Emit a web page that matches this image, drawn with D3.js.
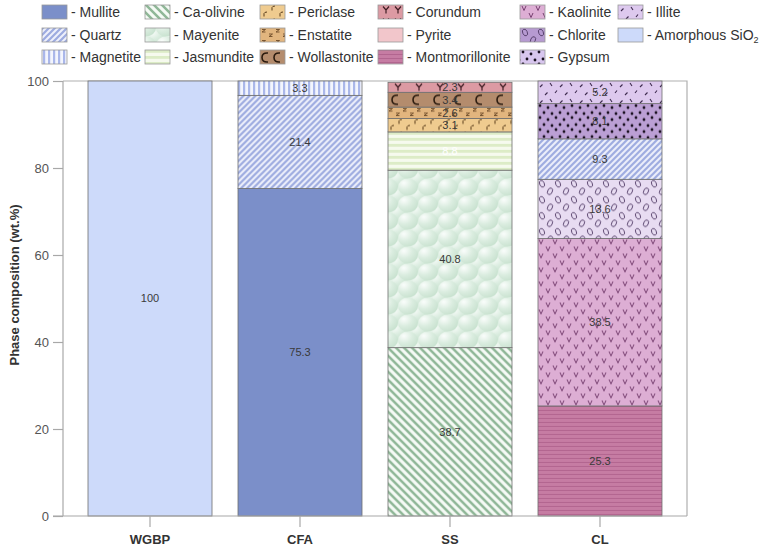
<!DOCTYPE html>
<html><head><meta charset="utf-8">
<script src="https://cdn.jsdelivr.net/npm/d3@7"></script>
<style>body{margin:0;background:#fff;} svg{display:block;font-family:"Liberation Sans",Arial,sans-serif;}</style>
</head><body>
<svg id="c" width="762" height="548"></svg>
<script>
// ---- data ----
const samples = ["WGBP", "CFA", "SS", "CL"];
const wgbpPhases = ["Amorphous SiO2"];
const wgbpValues = [100];
const cfaPhases = ["Mullite", "Quartz", "Magnetite"];
const cfaValues = [75.3, 21.4, 3.3];
const ssPhases = ["Ca-olivine", "Mayenite", "Jasmundite", "Periclase", "Enstatite", "Wollastonite", "Corundum"];
const ssValues = [38.7, 40.8, 8.8, 3.1, 2.6, 3.4, 2.3];
const clPhases = ["Montmorillonite", "Kaolinite", "Chlorite", "Quartz", "Gypsum", "Illite"];
const clValues = [25.3, 38.5, 13.6, 9.3, 8.1, 5.2];
const yTicks = [0, 20, 40, 60, 80, 100];
const legendColumns = [
  ["Mullite", "Quartz", "Magnetite"],
  ["Ca-olivine", "Mayenite", "Jasmundite"],
  ["Periclase", "Enstatite", "Wollastonite"],
  ["Corundum", "Pyrite", "Montmorillonite"],
  ["Kaolinite", "Chlorite", "Gypsum"],
  ["Illite", "Amorphous SiO2"]
];

const stacks = [
  {sample: "WGBP", phases: wgbpPhases, values: wgbpValues},
  {sample: "CFA", phases: cfaPhases, values: cfaValues},
  {sample: "SS", phases: ssPhases, values: ssValues},
  {sample: "CL", phases: clPhases, values: clValues}
];

const svg = d3.select("#c");
const defs = svg.append("defs");

(function() {
  const g = defs.append("radialGradient").attr("id", "bub").attr("cx", "30%").attr("cy", "25%").attr("r", "75%");
  g.append("stop").attr("offset", "0%").attr("stop-color", "#fafdfb");
  g.append("stop").attr("offset", "55%").attr("stop-color", "#dbede0");
  g.append("stop").attr("offset", "100%").attr("stop-color", "#cae3d1");
})();

function strokePath(d, color, w) {
  return p => p.append("path").attr("d", d).attr("stroke", color).attr("stroke-width", w).attr("fill", "none");
}
function chloriteDraw(p) {
  [[4, 4.5, -25], [12, 12, 25]].forEach(([cx, cy, r]) => {
    p.append("ellipse").attr("cx", cx).attr("cy", cy).attr("rx", 2.3).attr("ry", 3.5)
      .attr("transform", `rotate(${r},${cx},${cy})`)
      .attr("fill", "none").attr("stroke", "#4a3460").attr("stroke-width", 0.8);
  });
}
function gypsumDraw(p) {
  [[2, 2], [10, 4], [6, 9], [14, 10]].forEach(([cx, cy]) => {
    p.append("circle").attr("cx", cx).attr("cy", cy).attr("r", 1.4).attr("fill", "#1a1020");
  });
}
const patternSpecs = {
  "Mullite": {w: 10, h: 10, bg: "#7b8fc9"},
  "Amorphous SiO2": {w: 10, h: 10, bg: "#cddafa"},
  "Pyrite": {w: 10, h: 10, bg: "#f2c6cb"},
  "Quartz": {w: 6, h: 6, bg: "#eef0fb", draw: strokePath("M-1,1 L1,-1 M0,6 L6,0 M5,7 L7,5", "#9dabe0", 2.2)},
  "Magnetite": {w: 5, h: 5, bg: "#f3f5fd", draw: p => p.append("rect").attr("width", 2.2).attr("height", 5).attr("fill", "#aab7ea")},
  "Ca-olivine": {w: 8, h: 8, bg: "#f5faf5", draw: strokePath("M-1,7 L1,9 M0,0 L8,8 M7,-1 L9,1", "#8fb797", 2.5)},
  "Mayenite": {w: 20, h: 17, bg: "#d5eadb", draw: p => {
    [[10, 8.5], [0, 0], [20, 0], [0, 17], [20, 17]].forEach(([cx, cy]) => {
      p.append("ellipse").attr("cx", cx).attr("cy", cy).attr("rx", 10).attr("ry", 8.5).attr("fill", "url(#bub)");
    });
  }},
  "Jasmundite": {w: 6, h: 6, bg: "#f6faee", draw: p => p.append("rect").attr("width", 6).attr("height", 2.8).attr("fill", "#dcecc6")},
  "Periclase": {w: 16, h: 13, bg: "#efcb8f", draw: strokePath("M3,11.5 L3,8.5 Q3.5,7 6,7 M11,5.5 L11,2.5 Q11.5,1 14,1", "#5a3d1a", 1)},
  "Enstatite": {w: 14, h: 11, bg: "#e2b57e", draw: strokePath("M1,1.5 L4.5,1.5 L1,4 L4.5,4 M8,6 L11.5,6 L8,8.5 L11.5,8.5", "#6e4c28", 0.9)},
  "Wollastonite": {w: 21, h: 15, lw: 12, bg: "#b48c6d", draw: strokePath("M10,3 Q4,2.5 4,7.5 Q4,12.5 10,12", "#2a1a0e", 1.6)},
  "Corundum": {w: 21, h: 12, lw: 12, bg: "#dc9aa3", draw: strokePath("M7,1.5 L10,5 L13,1.5 M10,5 L10,8.5", "#3e1c22", 1.2)},
  "Montmorillonite": {w: 6, h: 4, bg: "#c67ca3", draw: p => p.append("rect").attr("width", 6).attr("height", 0.9).attr("fill", "#b0628d")},
  "Kaolinite": {w: 14, h: 14, bg: "#ddaed4", draw: strokePath("M1,1 L3,5.5 L5,1 M8,8 L10,12.5 L12,8", "#6a3264", 0.9)},
  "Illite": {w: 20, h: 16, bg: "#ddc9ee", draw: strokePath("M2,6 L4.5,3.5 M12,2 L14,5 M7,14 L9.5,11.5 M17,12 L19,9.5", "#3d2a4e", 1.1)},
  "Chlorite": {w: 16, h: 16, bg: "#e8dcf2", legendBg: "#b69ad1", draw: chloriteDraw},
  "Gypsum": {w: 16, h: 12, bg: "#bb9fd4", legendBg: "#d8c6ee", draw: gypsumDraw}
};

let patCount = 0;
function makeFill(name, x0, y0, legend) {
  const s = patternSpecs[name];
  const id = "pat" + (patCount++);
  const w = legend && s.lw ? s.lw : s.w;
  const p = defs.append("pattern").attr("id", id).attr("patternUnits", "userSpaceOnUse")
    .attr("x", x0).attr("y", y0).attr("width", w).attr("height", s.h);
  p.append("rect").attr("width", w).attr("height", s.h).attr("fill", legend && s.legendBg ? s.legendBg : s.bg);
  if (s.draw) {
    const g = p.append("g");
    if (legend && s.lw) g.attr("transform", "translate(-3,0)");
    s.draw(g);
  }
  return `url(#${id})`;
}

// ---- scales ----
const pLeft = 63, pRight = 687, pTop = 81, pBottom = 516;
const x = d3.scaleBand().domain(samples).range([pLeft, pRight]).paddingInner(0.1733).paddingOuter(0.1667);
const y = d3.scaleLinear().domain([0, 100]).range([pBottom, pTop]);

svg.append("path").attr("d", `M${pLeft},${pTop} L${pRight},${pTop} L${pRight},${pBottom}`)
  .attr("fill", "none").attr("stroke", "#b0b0b0").attr("stroke-width", 1.2);

stacks.forEach(s => {
  let cum = 0;
  s.phases.forEach((ph, i) => {
    const v = s.values[i];
    const y0 = cum, y1 = cum + v;
    cum = y1;
    const rx = x(s.sample), ry = y(y1);
    svg.append("rect").attr("x", rx).attr("width", x.bandwidth())
      .attr("y", ry).attr("height", y(y0) - y(y1))
      .attr("fill", makeFill(ph, rx, ry, false)).attr("stroke", "#6f6f6f").attr("stroke-width", 0.8);
    svg.append("text").attr("x", rx + x.bandwidth() / 2)
      .attr("y", (y(y0) + y(y1)) / 2).attr("dy", "0.35em").attr("text-anchor", "middle")
      .attr("font-size", 11).attr("fill", ph === "Jasmundite" ? "#ffffff" : "#3a3a3a")
      .text(v);
  });
});

const yAxis = d3.axisLeft(y).tickValues(yTicks).tickSize(10).tickPadding(4);
const ya = svg.append("g").attr("transform", `translate(${pLeft},0)`).call(yAxis);
ya.select(".domain").attr("stroke", "#a8a8a8").attr("stroke-width", 1.2).attr("d", `M0,${pBottom}V${pTop}`);
ya.selectAll(".tick line").attr("stroke", "#a8a8a8").attr("stroke-width", 1.2);
ya.selectAll(".tick text").attr("font-size", 13).attr("fill", "#555").attr("font-family", "Liberation Sans, Arial, sans-serif");

const xAxis = d3.axisBottom(x).tickSize(11).tickPadding(8);
const xa = svg.append("g").attr("transform", `translate(0,${pBottom})`).call(xAxis);
xa.select(".domain").attr("stroke", "#a8a8a8").attr("stroke-width", 1.2).attr("d", `M${pLeft - 10},0H${pRight}`);
xa.selectAll(".tick line").attr("stroke", "#a8a8a8").attr("stroke-width", 1.2);
xa.selectAll(".tick text").attr("font-size", 13).attr("font-weight", "bold").attr("fill", "#333")
  .attr("font-family", "Liberation Sans, Arial, sans-serif");

svg.append("text").attr("transform", `translate(14,285) rotate(-90)`)
  .attr("text-anchor", "middle").attr("dy", "0.35em").attr("font-size", 13).attr("font-weight", "bold")
  .attr("fill", "#333").text("Phase composition (wt.%)");

const colSwatchX = [42, 145, 260, 378, 520, 618];
const rowY = [12, 35, 57];
legendColumns.forEach((col, ci) => {
  col.forEach((name, ri) => {
    const sx = colSwatchX[ci], sy = rowY[ri] - 7;
    svg.append("rect").attr("x", sx).attr("y", sy).attr("width", 25).attr("height", 14)
      .attr("fill", makeFill(name, sx + 1, sy, true)).attr("stroke", "#999").attr("stroke-width", 0.8);
    const t = svg.append("text").attr("x", sx + 29).attr("y", rowY[ri]).attr("dy", "0.36em")
      .attr("font-size", 14).attr("fill", "#333");
    if (name === "Amorphous SiO2") {
      t.append("tspan").text("- Amorphous SiO");
      t.append("tspan").attr("font-size", 9).attr("dy", "0.3em").text("2");
    } else {
      t.text("- " + name);
    }
  });
});
</script>
</body></html>
